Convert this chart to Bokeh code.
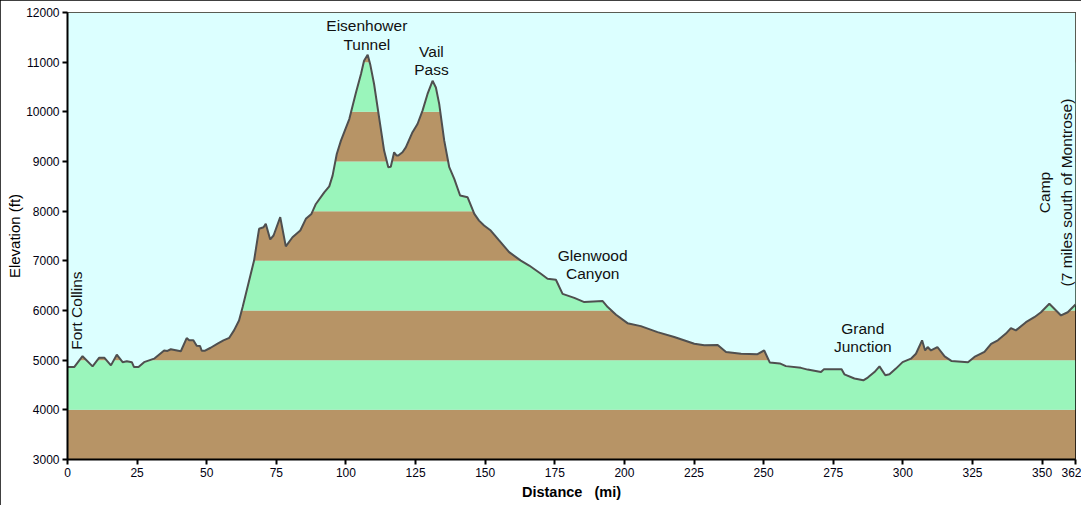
import numpy as np
from bokeh.plotting import figure
from bokeh.models import ColumnDataSource, FixedTicker, Range1d
from bokeh.core.properties import value
from bokeh.embed import file_html
from bokeh.resources import INLINE

# ---------------- data ----------------
distance_mi = [0, 2.4, 5.4, 9.0, 11.4, 13.2, 15.6, 17.7, 19.8, 21.3, 23.1, 23.9, 25.5, 27.5,
               29.3, 31.1, 34.7, 35.9, 37.1, 38.9, 40.7, 42.8, 43.7, 45.2, 46.4, 47.6, 48.2,
               49.4, 51.4, 53.9, 56.0, 58.1, 59.8, 61.6, 62.9, 67.0, 68.8, 70.4, 71.2, 72.8,
               74.0, 76.4, 78.4, 80.8, 83.6, 85.6, 87.6, 89.2, 92.2, 94.0, 95.2, 96.7, 98.2,
               101.2, 103.6, 105.4, 106.5, 107.8, 108.7, 110.1, 111.9, 113.7, 115.2, 116.1,
               117.3, 118.2, 118.8, 120.3, 121.5, 123.9, 125.7, 127.5, 129.3, 131.1, 132.3,
               133.5, 135.3, 137.1, 138.9, 141.0, 143.7, 146.1, 147.8, 149.6, 152.0, 155.0,
               158.6, 162.8, 165.8, 170.0, 172.4, 175.4, 177.8, 182.0, 185.6, 192.2, 194.0,
               197.0, 201.1, 205.9, 211.9, 217.9, 225.1, 228.7, 233.5, 236.5, 241.9, 247.8,
               250.2, 252.2, 255.8, 258.0, 263.4, 265.8, 270.6, 271.6, 278.0, 279.0, 282.6,
               285.8, 287.4, 289.8, 291.6, 293.7, 295.2, 297.5, 299.9, 302.9, 304.7, 306.9,
               308.0, 308.9, 310.1, 312.4, 315.0, 317.4, 323.4, 325.7, 329.3, 331.7, 334.1,
               337.0, 338.8, 340.6, 344.2, 347.2, 349.6, 352.6, 356.8, 359.2, 362.0]
elevation_ft = [4860, 4860, 5080, 4875, 5050, 5050, 4895, 5110, 4960, 4980, 4960, 4860, 4860, 4960,
                4995, 5030, 5195, 5185, 5220, 5200, 5180, 5445, 5400, 5400, 5290, 5285, 5190,
                5190, 5250, 5335, 5400, 5450, 5600, 5800, 6070, 7005, 7645, 7675, 7745, 7430,
                7510, 7880, 7290, 7475, 7610, 7845, 7945, 8145, 8380, 8500, 8715, 9150, 9420,
                9855, 10390, 10760, 11030, 11150, 10960, 10560, 9890, 9220, 8885, 8895,
                9185, 9120, 9120, 9185, 9285, 9590, 9755, 10025, 10360, 10625, 10490,
                10155, 9420, 8885, 8650, 8315, 8280, 7945, 7810, 7710, 7610, 7410,
                7175, 7005, 6905, 6740, 6640, 6620, 6335, 6255, 6170, 6190, 6070,
                5915, 5745, 5685, 5565, 5465, 5330, 5300, 5305, 5165, 5130, 5120,
                5195, 4955, 4935, 4880, 4845, 4810, 4760, 4815, 4815, 4715, 4630,
                4595, 4650, 4760, 4875, 4695, 4715, 4830, 4960, 5030, 5130, 5400,
                5195, 5265, 5195, 5265, 5075, 4985, 4960, 5065, 5165, 5330, 5400,
                5535, 5645, 5600, 5765, 5865, 5965, 6135, 5900, 5965, 6120]

x_ticks = [0, 25, 50, 75, 100, 125, 150, 175, 200, 225, 250, 275, 300, 325, 350, 362]
y_ticks = [3000, 4000, 5000, 6000, 7000, 8000, 9000, 10000, 11000, 12000]

label_lines = ["Eisenhower", "Tunnel", "Vail", "Pass", "Glenwood", "Canyon", "Grand", "Junction"]
label_x = [107.5, 107.5, 130.7, 130.7, 188.6, 188.6, 285.6, 285.6]
label_y = [11733, 11365, 11216, 10848, 7108, 6741, 5636, 5266]

vlabel_lines = ["Fort Collins", "Camp", "(7 miles south of Montrose)"]
vlabel_x = [3.3, 350.8, 358.6]
vlabel_y = [5998, 8376, 8376]

# ---------------- styles ----------------
BROWN = "#b79466"
GREEN = "#9af5bb"
SKY = "#dcffff"
FONT = "Liberation Sans"

x_min, x_max = x_ticks[0], x_ticks[-1]
y_min, y_max = y_ticks[0], y_ticks[-1]

p = figure(width=1081, height=505, output_backend="svg", toolbar_location=None,
           x_range=Range1d(x_min, x_max), y_range=Range1d(y_min, y_max),
           min_border_left=67, min_border_right=6, min_border_top=12, min_border_bottom=46)
p.styles = {"outline": "1px solid black", "outline-offset": "-1px"}

band_src = ColumnDataSource(dict(
    left=[x_min] * (len(y_ticks) - 1),
    right=[x_max] * (len(y_ticks) - 1),
    bottom=y_ticks[:-1],
    top=y_ticks[1:],
    color=[BROWN if i % 2 == 0 else GREEN for i in range(len(y_ticks) - 1)],
))
p.quad(left="left", right="right", bottom="bottom", top="top", fill_color="color",
       line_color=None, source=band_src)

p.varea(x=distance_mi, y1=elevation_ft, y2=[y_max] * len(distance_mi), fill_color=SKY)
p.line(distance_mi, elevation_ft, line_color="#4f4f4f", line_width=2)

lab_src = ColumnDataSource(dict(x=label_x, y=label_y, t=label_lines))
p.text(x="x", y="y", text="t", source=lab_src, text_align="center", text_baseline="middle",
       text_font=value(FONT), text_font_size=value("15.5px"), text_color="#111111")

vlab_src = ColumnDataSource(dict(x=vlabel_x, y=vlabel_y, t=vlabel_lines))
p.text(x="x", y="y", text="t", source=vlab_src, text_align="center", text_baseline="middle",
       angle=np.pi / 2, text_font=value(FONT), text_font_size=value("15.5px"),
       text_color="#111111")

p.background_fill_color = SKY
p.border_fill_color = "white"
p.outline_line_color = "black"
p.outline_line_width = 1
p.xgrid.visible = False
p.ygrid.visible = False

p.xaxis.ticker = FixedTicker(ticks=x_ticks)
p.yaxis.ticker = FixedTicker(ticks=y_ticks)
for ax in (p.xaxis, p.yaxis):
    ax.axis_line_width = 2
    ax.axis_line_color = "black"
    ax.major_tick_out = 5
    ax.major_tick_in = 0
    ax.major_tick_line_width = 2
    ax.minor_tick_line_color = None
    ax.major_label_text_font = FONT
    ax.major_label_text_font_size = "12px"
    ax.major_label_text_color = "#000011"
    ax.major_label_standoff = 3
    ax.axis_label_text_font = FONT
    ax.axis_label_text_color = "black"

p.xaxis.axis_label = "Distance\u00a0\u00a0\u00a0(mi)"
p.xaxis.axis_label_text_font_style = "bold"
p.xaxis.axis_label_text_font_size = "14.5px"
p.xaxis.axis_label_standoff = 4

p.yaxis.axis_label = "Elevation (ft)"
p.yaxis.axis_label_text_font_style = "normal"
p.yaxis.axis_label_text_font_size = "15px"
p.yaxis.axis_label_standoff = 0

open("out.html", "w").write(file_html(p, INLINE))
